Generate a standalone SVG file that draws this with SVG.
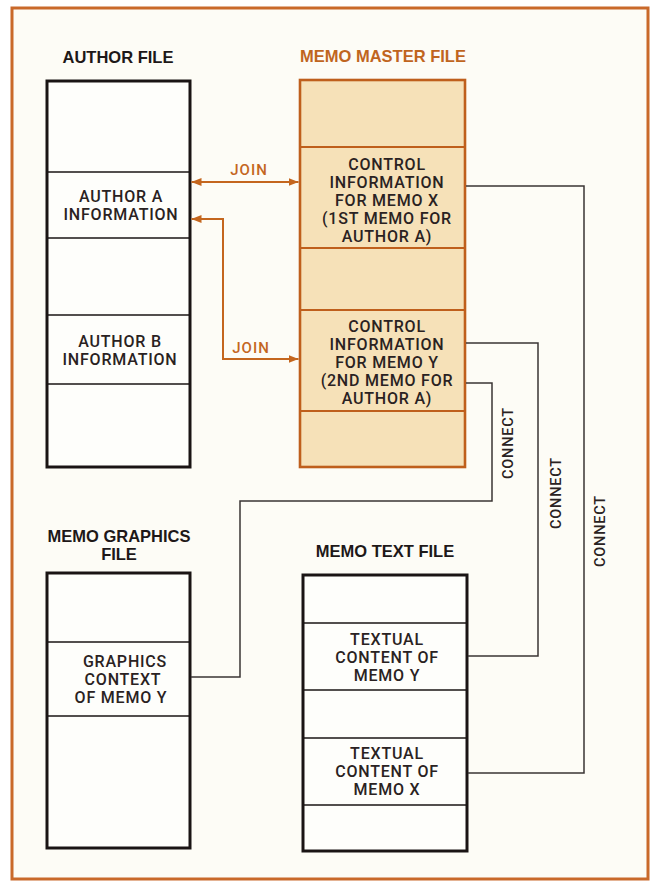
<svg xmlns="http://www.w3.org/2000/svg" width="654" height="882" viewBox="0 0 654 882">
<defs>
<style>
.bg{fill:#fdfcf6}
.frame{fill:none;stroke:#c9692a;stroke-width:3}
.box{fill:#fefefb;stroke:#1a1414;stroke-width:3}
.div{stroke:#1a1414;stroke-width:1.6}
.mbox{fill:#f6e1b8;stroke:#bf5f1c;stroke-width:2.6}
.mdiv{stroke:#bf5f1c;stroke-width:2}
.title{font-family:"Liberation Sans",Arial,sans-serif;font-weight:bold;font-size:16.5px;fill:#1e1818;text-anchor:middle}
.otitle{fill:#c0651e}
.t{font-family:Roboto,"Liberation Sans",Arial,sans-serif;font-weight:500;font-size:16px;letter-spacing:0.8px;fill:#2a2222;text-anchor:middle}
.join{font-family:Roboto,"Liberation Sans",Arial,sans-serif;font-weight:500;font-size:15px;letter-spacing:1px;fill:#c4661e;text-anchor:middle}
.con{font-family:Roboto,"Liberation Sans",Arial,sans-serif;font-weight:500;font-size:14.5px;letter-spacing:0.8px;fill:#2a2222;text-anchor:middle}
.jl{fill:none;stroke:#c4661e;stroke-width:2}
.cl{fill:none;stroke:#3a3434;stroke-width:1.5}
</style>
<marker id="ah" viewBox="0 0 10 8" refX="10" refY="4" markerWidth="10" markerHeight="8" markerUnits="userSpaceOnUse" orient="auto-start-reverse">
<path d="M0,0 L10,4 L0,8 Z" fill="#c4661e"/>
</marker>
</defs>
<rect x="0" y="0" width="654" height="882" fill="#ffffff"/>
<rect class="bg" x="12" y="8" width="636" height="871"/>
<rect class="frame" x="12" y="8" width="636" height="871"/>

<g id="author-file">
<text class="title" x="118" y="63">AUTHOR FILE</text>
<rect class="box" x="47" y="81" width="143" height="386"/>
<line class="div" x1="47" y1="172" x2="190" y2="172"/>
<line class="div" x1="47" y1="238" x2="190" y2="238"/>
<line class="div" x1="47" y1="315" x2="190" y2="315"/>
<line class="div" x1="47" y1="384" x2="190" y2="384"/>
<text class="t" x="121" y="202">AUTHOR A</text>
<text class="t" x="121" y="220">INFORMATION</text>
<text class="t" x="120" y="347">AUTHOR B</text>
<text class="t" x="120" y="365">INFORMATION</text>
</g>

<g id="memo-master-file">
<text class="title otitle" x="383" y="62">MEMO MASTER FILE</text>
<rect class="mbox" x="300" y="80" width="165" height="387"/>
<line class="mdiv" x1="300" y1="147" x2="465" y2="147"/>
<line class="mdiv" x1="300" y1="248" x2="465" y2="248"/>
<line class="mdiv" x1="300" y1="310" x2="465" y2="310"/>
<line class="mdiv" x1="300" y1="411" x2="465" y2="411"/>
<text class="t" x="387" y="170">CONTROL</text>
<text class="t" x="387" y="188">INFORMATION</text>
<text class="t" x="387" y="206">FOR MEMO X</text>
<text class="t" x="387" y="224">(1ST MEMO FOR</text>
<text class="t" x="387" y="242">AUTHOR A)</text>
<text class="t" x="387" y="332">CONTROL</text>
<text class="t" x="387" y="350">INFORMATION</text>
<text class="t" x="387" y="368">FOR MEMO Y</text>
<text class="t" x="387" y="386">(2ND MEMO FOR</text>
<text class="t" x="387" y="404">AUTHOR A)</text>
</g>

<g id="memo-graphics-file">
<text class="title" x="119" y="542">MEMO GRAPHICS</text>
<text class="title" x="119" y="560">FILE</text>
<rect class="box" x="47" y="573" width="143" height="275"/>
<line class="div" x1="47" y1="642" x2="190" y2="642"/>
<line class="div" x1="47" y1="716" x2="190" y2="716"/>
<text class="t" x="125" y="667">GRAPHICS</text>
<text class="t" x="123" y="685">CONTEXT</text>
<text class="t" x="121" y="703">OF MEMO Y</text>
</g>

<g id="memo-text-file">
<text class="title" x="385" y="557">MEMO TEXT FILE</text>
<rect class="box" x="303" y="575" width="164" height="276"/>
<line class="div" x1="303" y1="623" x2="467" y2="623"/>
<line class="div" x1="303" y1="690" x2="467" y2="690"/>
<line class="div" x1="303" y1="738" x2="467" y2="738"/>
<line class="div" x1="303" y1="805" x2="467" y2="805"/>
<text class="t" x="387" y="645">TEXTUAL</text>
<text class="t" x="387" y="663">CONTENT OF</text>
<text class="t" x="387" y="681">MEMO Y</text>
<text class="t" x="387" y="759">TEXTUAL</text>
<text class="t" x="387" y="777">CONTENT OF</text>
<text class="t" x="387" y="795">MEMO X</text>
</g>

<g id="connectors">
<line class="jl" x1="191.5" y1="182" x2="298.5" y2="182" marker-start="url(#ah)" marker-end="url(#ah)"/>
<text class="join" x="249" y="175">JOIN</text>
<polyline class="jl" points="191.5,219 223,219 223,359 298.5,359" marker-start="url(#ah)" marker-end="url(#ah)"/>
<text class="join" x="251" y="353">JOIN</text>
<polyline class="cl" points="466,186 584,186 584,773 468,773"/>
<polyline class="cl" points="466,343 538,343 538,656 468,656"/>
<polyline class="cl" points="466,383 492,383 492,501 240,501 240,677 191,677"/>
<text class="con" transform="translate(513,443) rotate(-90)">CONNECT</text>
<text class="con" transform="translate(561,493) rotate(-90)">CONNECT</text>
<text class="con" transform="translate(605,531) rotate(-90)">CONNECT</text>
</g>
</svg>
